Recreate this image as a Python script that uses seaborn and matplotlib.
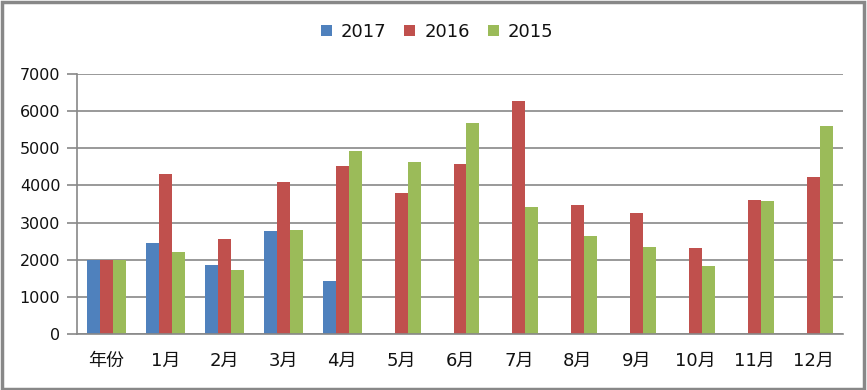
import numpy as np
import pandas as pd
import matplotlib
matplotlib.use("Agg")
import matplotlib.pyplot as plt
import seaborn as sns
from matplotlib.patches import Rectangle

categories = ["年份", "1月", "2月", "3月", "4月", "5月", "6月", "7月", "8月", "9月", "10月", "11月", "12月"]
series_names = ["2017", "2016", "2015"]
v2017 = [2000, 2460, 1865, 2785, 1430, np.nan, np.nan, np.nan, np.nan, np.nan, np.nan, np.nan, np.nan]
v2016 = [2000, 4320, 2570, 4080, 4510, 3785, 4565, 6270, 3460, 3245, 2325, 3595, 4215]
v2015 = [2000, 2215, 1730, 2810, 4920, 4620, 5675, 3430, 2650, 2350, 1840, 3570, 5595]
colors = ["#4F81BD", "#C0504D", "#9BBB59"]
yticks = [0, 1000, 2000, 3000, 4000, 5000, 6000, 7000]

rows = []
for name, vals in zip(series_names, [v2017, v2016, v2015]):
    for c, v in zip(categories, vals):
        rows.append({"cat": c, "year": name, "value": v})
df = pd.DataFrame(rows)

sns.set_theme(style="white")
plt.rcParams["font.family"] = ["DejaVu Sans", "Noto Sans CJK SC"]

fig = plt.figure(figsize=(8.67, 3.9), dpi=100)
ax = fig.add_axes([77/867, 1 - 334/390, (843-77)/867, (334-74)/390])

sns.barplot(data=df, x="cat", y="value", hue="year", order=categories,
            hue_order=series_names, palette=colors, width=0.66, gap=0,
            saturation=1, linewidth=0, edgecolor="none", ax=ax, legend=True)

ax.set_ylim(0, 7000)
ax.set_xlim(-0.5, len(categories) - 0.5)
ax.set_yticks(yticks)
ax.set_yticklabels([str(t) for t in yticks], fontsize=11.5, color="#111111")
ax.yaxis.grid(True, color="#888888", linewidth=1.2)
ax.set_axisbelow(True)
ax.set_xlabel("")
ax.set_ylabel("")

ax.set_xticks(range(len(categories)))
ax.set_xticklabels(categories, fontsize=13, color="#111111")
ax.tick_params(axis="x", which="major", length=0, pad=13)
ax.set_xticks(np.arange(-0.5, len(categories)), minor=True)
ax.tick_params(axis="x", which="minor", length=6, width=1.2, color="#888888", direction="out")
ax.tick_params(axis="y", which="major", length=7, width=1.2, color="#888888", direction="out", left=True, pad=5)

for s in ["top", "right"]:
    ax.spines[s].set_visible(False)
for s in ["left", "bottom"]:
    ax.spines[s].set_color("#888888")
    ax.spines[s].set_linewidth(1.2)

leg = ax.legend(loc="center", bbox_to_anchor=(437/867, 1 - 32/390),
                bbox_transform=fig.transFigure, ncol=3, frameon=False,
                fontsize=13, handlelength=0.6, handleheight=0.6,
                handletextpad=0.5, columnspacing=1.0)
for t in leg.get_texts():
    t.set_color("#111111")

fig.patches.append(Rectangle((0.002, 0.003), 0.995, 0.993, transform=fig.transFigure,
                             fill=False, edgecolor="#888888", linewidth=2.5))

fig.savefig("out.png", dpi=100)
